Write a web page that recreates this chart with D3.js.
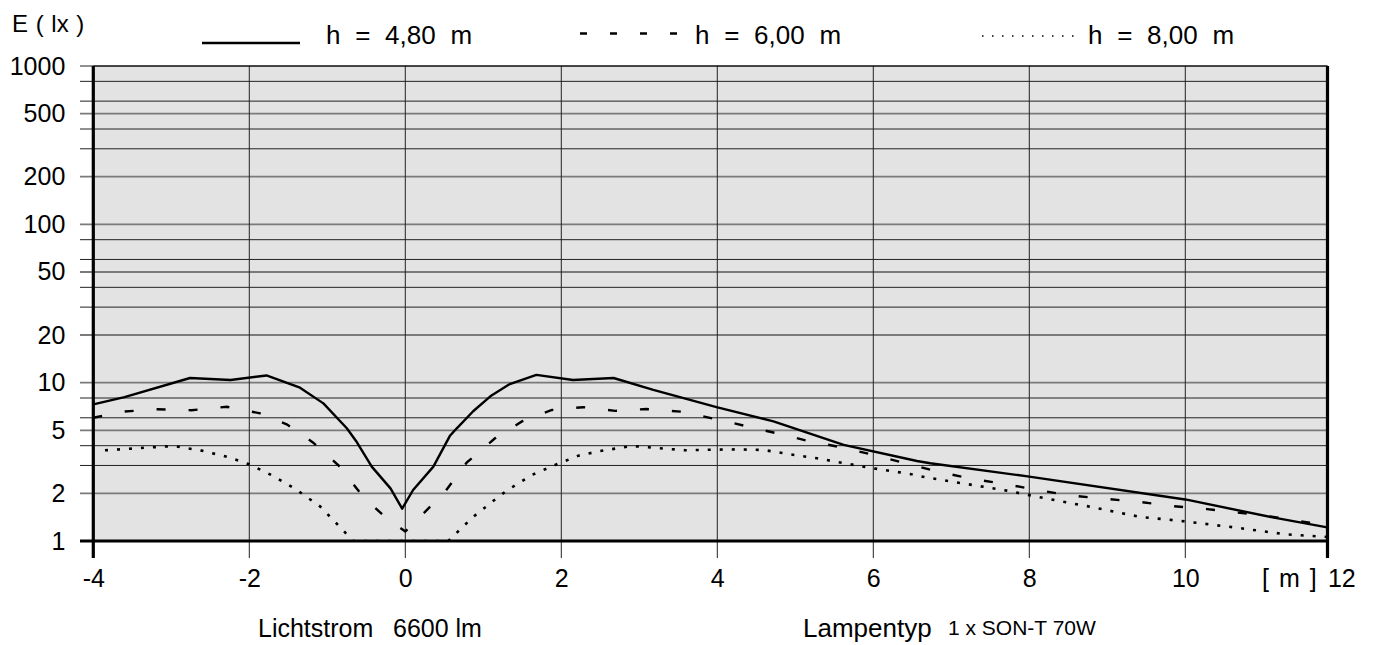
<!DOCTYPE html>
<html>
<head>
<meta charset="utf-8">
<script src="https://cdn.jsdelivr.net/npm/d3@7.9.0/dist/d3.min.js"></script>
<style>
  body { margin: 0; background: #fff; }
  svg text { font-family: "Liberation Sans", Arial, sans-serif; fill: #000; }
</style>
</head>
<body>
<svg id="chart" width="1374" height="645"></svg>
<script>
// distance along the road [m]
const xTicks = [-4, -2, 0, 2, 4, 6, 8, 10, 12];
// illuminance grid (log) and the labelled values
const yGrid = [1, 2, 3, 4, 5, 6, 8, 10, 20, 30, 40, 50, 60, 80, 100, 200, 300, 400, 500, 600, 800, 1000];
const yLabels = [1, 2, 5, 10, 20, 50, 100, 200, 500, 1000];

// h = 4,80 m
const h480 = [
  [-4, 7.3], [-3.6, 8.1], [-2.76, 10.7], [-2.24, 10.4], [-1.78, 11.1], [-1.35, 9.3],
  [-1.05, 7.4], [-0.75, 5.15], [-0.62, 4.2], [-0.43, 2.95], [-0.19, 2.15], [-0.04, 1.6],
  [0.10, 2.1], [0.36, 2.95], [0.57, 4.6], [0.66, 5.15], [0.87, 6.6], [1.09, 8.2],
  [1.34, 9.8], [1.68, 11.2], [2.15, 10.4], [2.67, 10.7], [3.18, 9.0], [3.99, 7.0],
  [4.72, 5.7], [5.62, 4.05], [6.56, 3.2], [6.73, 3.1], [8.0, 2.55], [10.0, 1.83],
  [11.12, 1.41], [11.82, 1.22]
];
// h = 6,00 m
const h600 = [
  [-4, 6.0], [-3.62, 6.56], [-3.19, 6.8], [-2.74, 6.7], [-2.29, 7.05], [-1.86, 6.4],
  [-1.52, 5.46], [-1.18, 4.18], [-0.84, 2.95], [-0.54, 1.9], [-0.24, 1.39], [0, 1.15],
  [0.17, 1.39], [0.51, 2.05], [0.79, 3.14], [1.15, 4.45], [1.49, 5.67], [1.88, 6.72],
  [2.28, 7.0], [2.69, 6.64], [3.09, 6.82], [3.54, 6.56], [3.97, 5.9], [4.36, 5.33],
  [4.76, 4.79], [5.17, 4.28], [5.62, 3.88], [6.04, 3.46], [6.45, 3.06], [6.83, 2.74],
  [7.26, 2.47], [7.71, 2.28], [8.12, 2.09], [8.53, 1.94], [8.95, 1.85], [9.40, 1.77],
  [9.84, 1.66], [10.28, 1.59], [10.73, 1.50], [11.17, 1.41], [11.53, 1.32], [11.82, 1.26]
];
// h = 8,00 m
const h800 = [
  [-3.85, 3.74], [-3.34, 3.88], [-2.97, 3.98], [-2.63, 3.74], [-2.29, 3.41], [-2.0, 3.05],
  [-1.69, 2.57], [-1.39, 2.1], [-1.09, 1.65], [-0.82, 1.2], [-0.67, 1.0], [-0.4, 0.8],
  [0, 0.7], [0.4, 0.8], [0.55, 1.0], [0.87, 1.42], [1.17, 1.86], [1.3, 2.08], [1.62, 2.61],
  [1.92, 3.02], [2.22, 3.46], [2.5, 3.7], [2.9, 3.98], [3.2, 3.88], [3.59, 3.74],
  [3.88, 3.77], [4.23, 3.79], [4.59, 3.76], [4.93, 3.53], [5.28, 3.33], [5.62, 3.1],
  [5.96, 2.9], [6.47, 2.65], [6.66, 2.53], [7.15, 2.31], [7.71, 2.08], [8.18, 1.87],
  [8.74, 1.66], [9.42, 1.42], [9.94, 1.34], [10.62, 1.22], [11.3, 1.10], [11.82, 1.06]
];

const svg = d3.select('#chart');

const plotLeft = 93.3, plotRight = 1327.5, plotTop = 66, plotBottom = 541;

const x = d3.scaleLinear().domain([-4, 12]).range([plotLeft, plotLeft + 16 * 78]);
const y = d3.scaleLog().domain([1, 1000]).range([plotBottom, plotTop]).clamp(true);

// plot background
svg.append('rect')
  .attr('x', plotLeft).attr('y', plotTop)
  .attr('width', plotRight - plotLeft).attr('height', plotBottom - plotTop)
  .attr('fill', '#e3e3e3');

// horizontal grid, extends left as ticks
svg.append('g')
  .selectAll('line')
  .data(yGrid)
  .join('line')
  .attr('x1', 80).attr('x2', plotRight)
  .attr('y1', d => y(d)).attr('y2', d => y(d))
  .attr('stroke', d => (yLabels.includes(d) && d !== 1000) ? '#7a7a7a' : '#222')
  .attr('stroke-width', d => (yLabels.includes(d) && d !== 1000) ? 1.8 : 1);

// vertical grid
svg.append('g')
  .selectAll('line')
  .data(xTicks.filter(d => d > -4 && d < 12))
  .join('line')
  .attr('x1', d => x(d)).attr('x2', d => x(d))
  .attr('y1', plotTop).attr('y2', 558)
  .attr('stroke', '#222')
  .attr('stroke-width', 1);

// curves
svg.append('clipPath').attr('id', 'plot')
  .append('rect')
  .attr('x', plotLeft).attr('y', plotTop)
  .attr('width', plotRight - plotLeft).attr('height', plotBottom - plotTop);

const line = d3.line()
  .x(d => x(d[0]))
  .y(d => y(d[1]));

const curves = svg.append('g').attr('clip-path', 'url(#plot)');
curves.append('path').datum(h480)
  .attr('d', line).attr('fill', 'none')
  .attr('stroke', '#000').attr('stroke-width', 2.4)
  .attr('stroke-linejoin', 'round');
curves.append('path').datum(h600)
  .attr('d', line).attr('fill', 'none')
  .attr('stroke', '#000').attr('stroke-width', 2.4)
  .attr('stroke-dasharray', '9,23');
curves.append('path').datum(h800)
  .attr('d', line).attr('fill', 'none')
  .attr('stroke', '#000').attr('stroke-width', 2.6)
  .attr('stroke-dasharray', '3,9');

// frame
svg.append('line')
  .attr('x1', plotLeft).attr('x2', plotRight).attr('y1', plotTop).attr('y2', plotTop)
  .attr('stroke', '#000').attr('stroke-width', 1.2);
svg.append('line')
  .attr('x1', 80).attr('x2', plotRight + 1.5).attr('y1', plotBottom).attr('y2', plotBottom)
  .attr('stroke', '#000').attr('stroke-width', 3.2);
svg.append('line')
  .attr('x1', plotLeft).attr('x2', plotLeft).attr('y1', plotTop).attr('y2', 558)
  .attr('stroke', '#000').attr('stroke-width', 3.2);
svg.append('line')
  .attr('x1', plotRight).attr('x2', plotRight).attr('y1', plotTop).attr('y2', 558)
  .attr('stroke', '#000').attr('stroke-width', 3.2);

// y axis labels
svg.append('g')
  .attr('transform', `translate(${plotLeft},0)`)
  .call(d3.axisLeft(y).tickValues(yLabels).tickFormat(d => String(d)).tickSize(0).tickPadding(28))
  .call(g => g.select('.domain').remove())
  .selectAll('text')
  .attr('font-size', '25px')
  .attr('font-family', '"Liberation Sans", Arial, sans-serif');

// x axis labels (plain hyphen for negatives)
svg.append('g')
  .attr('transform', `translate(0,${plotBottom})`)
  .call(d3.axisBottom(x).tickValues(xTicks).tickFormat(d => String(d)).tickSize(0).tickPadding(28))
  .call(g => g.select('.domain').remove())
  .selectAll('text')
  .attr('font-size', '25px')
  .attr('font-family', '"Liberation Sans", Arial, sans-serif');

// unit labels
svg.append('text')
  .attr('x', 12).attr('y', 32)
  .attr('font-size', '24px')
  .attr('word-spacing', '1px')
  .text('E ( lx )');

svg.append('text')
  .attr('x', 1262).attr('y', 587)
  .attr('font-size', '25px')
  .attr('word-spacing', '3px')
  .text('[ m ]');

// legend
const legend = svg.append('g');
legend.append('line')
  .attr('x1', 202).attr('x2', 300).attr('y1', 43).attr('y2', 43)
  .attr('stroke', '#000').attr('stroke-width', 2.6);
legend.append('text').attr('x', 326).attr('y', 44)
  .attr('font-size', '26px').attr('word-spacing', '7.5px')
  .text('h = 4,80 m');

legend.append('line')
  .attr('x1', 580).attr('x2', 677).attr('y1', 33.5).attr('y2', 33.5)
  .attr('stroke', '#000').attr('stroke-width', 2.5)
  .attr('stroke-dasharray', '7,23');
legend.append('text').attr('x', 695).attr('y', 44)
  .attr('font-size', '26px').attr('word-spacing', '7.5px')
  .text('h = 6,00 m');

legend.append('line')
  .attr('x1', 982).attr('x2', 1074).attr('y1', 36).attr('y2', 36)
  .attr('stroke', '#000').attr('stroke-width', 1.4)
  .attr('stroke-dasharray', '1.5,8.5');
legend.append('text').attr('x', 1088).attr('y', 44)
  .attr('font-size', '26px').attr('word-spacing', '7.5px')
  .text('h = 8,00 m');

// footer info
svg.append('text').attr('x', 258).attr('y', 637)
  .attr('font-size', '25px')
  .text('Lichtstrom');
svg.append('text').attr('x', 393).attr('y', 637)
  .attr('font-size', '25px')
  .text('6600 lm');
svg.append('text').attr('x', 803).attr('y', 637)
  .attr('font-size', '26px')
  .text('Lampentyp');
svg.append('text').attr('x', 948).attr('y', 635)
  .attr('font-size', '21px')
  .text('1 x SON-T 70W');
</script>
</body>
</html>
